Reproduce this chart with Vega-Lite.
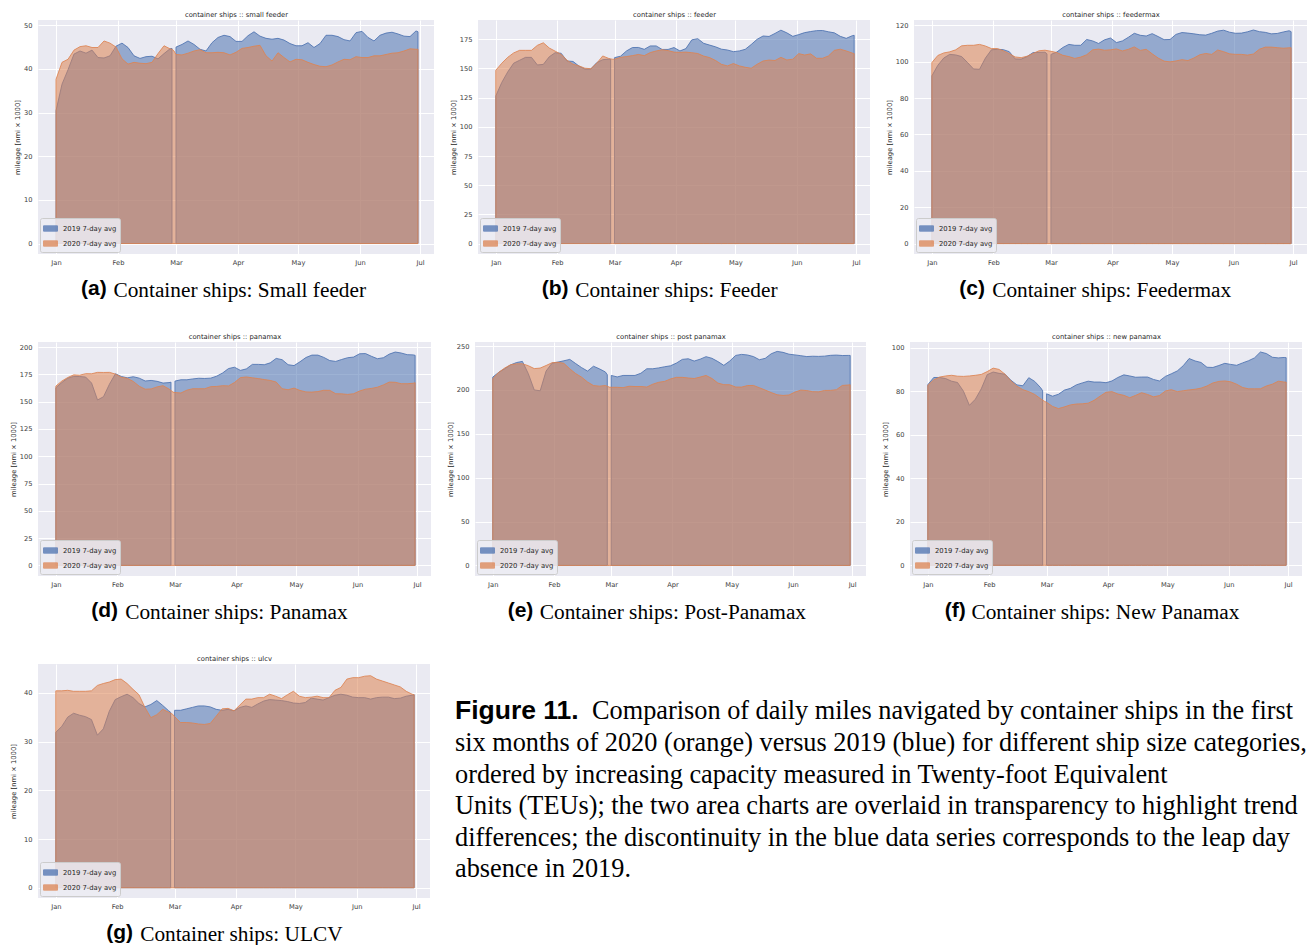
{
"$schema": "https://vega.github.io/schema/vega-lite/v6.json",
"background": "white",
"padding": {"left": 10, "top": 11, "right": 0, "bottom": 0},
"datasets": {"m": [
{"d":"2020-01-01","a19":30.4,"a20":37.6,"b19":126.5,"b20":148.4,"c19":92.2,"c20":99.5,"d19":162.7,"d20":164.2,"e19":214.6,"e20":212.7,"f19":83,"f20":82.7,"g19":31.9,"g20":40.4},
{"d":"2020-01-04","a19":36.5,"a20":41.5,"b19":138,"b20":154.5,"c19":98,"c20":103.4,"d19":167.5,"d20":168.8,"e19":220,"e20":220,"f19":86.3,"f20":85.2,"g19":33.1,"g20":40.4},
{"d":"2020-01-07","a19":39.8,"a20":42.2,"b19":147,"b20":159.5,"c19":102,"c20":104.8,"d19":171.5,"d20":172.1,"e19":224.1,"e20":224.9,"f19":86.3,"f20":86.5,"g19":35,"g20":40.5},
{"d":"2020-01-10","a19":43.4,"a20":44.3,"b19":154.5,"b20":163.3,"c19":104,"c20":105.4,"d19":173.1,"d20":174.5,"e19":228.5,"e20":228.7,"f19":85.8,"f20":87,"g19":35.8,"g20":40.3},
{"d":"2020-01-13","a19":44.1,"a20":45.1,"b19":157,"b20":165.5,"c19":103.7,"c20":106.5,"d19":173,"d20":174.2,"e19":231.2,"e20":229.7,"f19":84.6,"f20":87.3,"g19":35.4,"g20":40.3},
{"d":"2020-01-16","a19":43.6,"a20":45.3,"b19":159.5,"b20":165.5,"c19":102.8,"c20":108.7,"d19":172.5,"d20":175.6,"e19":232.5,"e20":229.8,"f19":84,"f20":86.9,"g19":35.1,"g20":40.3},
{"d":"2020-01-19","a19":44.3,"a20":44.9,"b19":159.5,"b20":165.5,"c19":99.5,"c20":109,"d19":167,"d20":175.5,"e19":218.5,"e20":227.6,"f19":80,"f20":86.8,"g19":34.5,"g20":40.4},
{"d":"2020-01-22","a19":42.6,"a20":44.9,"b19":153,"b20":169.8,"c19":96,"c20":109,"d19":151.5,"d20":176.8,"e19":200,"e20":224.3,"f19":73.5,"f20":87,"g19":31.3,"g20":41.5},
{"d":"2020-01-25","a19":42.5,"a20":46.4,"b19":153.5,"b20":172,"c19":95.8,"c20":109.5,"d19":154.5,"d20":176.7,"e19":199,"e20":224.9,"f19":76.3,"f20":87.3,"g19":32.6,"g20":41.9},
{"d":"2020-01-28","a19":43,"a20":45.9,"b19":160,"b20":167.5,"c19":102,"c20":108.6,"d19":166,"d20":176.8,"e19":221.5,"e20":227.8,"f19":81.1,"f20":87.7,"g19":36.2,"g20":42.2},
{"d":"2020-01-31","a19":45.2,"a20":45,"b19":163.5,"b20":164.8,"c19":106.5,"c20":107.2,"d19":175.5,"d20":175.2,"e19":230.5,"e20":231,"f19":87.6,"f20":89,"g19":38.6,"g20":42.7},
{"d":"2020-02-03","a19":45.9,"a20":42.3,"b19":163,"b20":162.1,"c19":106.8,"c20":107.2,"d19":173,"d20":172.3,"e19":231.7,"e20":231.5,"f19":88.8,"f20":90.6,"g19":39.2,"g20":42.8},
{"d":"2020-02-06","a19":44.9,"a20":41.1,"b19":156.4,"b20":157,"c19":106.6,"c20":106,"d19":171.8,"d20":171.3,"e19":233.2,"e20":230.3,"f19":88.2,"f20":90,"g19":39.7,"g20":41.9},
{"d":"2020-02-09","a19":43,"a20":41.5,"b19":156,"b20":153.6,"c19":105.5,"c20":104.4,"d19":172.8,"d20":168.5,"e19":234.8,"e20":224,"f19":87.8,"f20":87.8,"g19":39,"g20":40.7},
{"d":"2020-02-12","a19":42.4,"a20":41.3,"b19":152,"b20":152.2,"c19":101.5,"c20":102.6,"d19":171.5,"d20":164.1,"e19":230,"e20":218.6,"f19":85,"f20":84.7,"g19":37.8,"g20":39.6},
{"d":"2020-02-15","a19":42.8,"a20":41.2,"b19":149.5,"b20":150.2,"c19":101.4,"c20":102.2,"d19":168.9,"d20":161.4,"e19":225.4,"e20":214.5,"f19":82.9,"f20":82.3,"g19":37.1,"g20":37},
{"d":"2020-02-18","a19":42.9,"a20":41.5,"b19":149.5,"b20":149.8,"c19":102.8,"c20":103,"d19":169.4,"d20":161.6,"e19":221.5,"e20":209,"f19":82.5,"f20":80.7,"g19":37.6,"g20":34.9},
{"d":"2020-02-21","a19":42.3,"a20":43.5,"b19":155,"b20":154.5,"c19":105,"c20":104.5,"d19":168.6,"d20":163.5,"e19":227,"e20":205,"f19":86.2,"f20":79.8,"g19":38.4,"g20":35.5},
{"d":"2020-02-24","a19":43.5,"a20":45.3,"b19":157.5,"b20":160.7,"c19":105.1,"c20":106,"d19":167,"d20":164.6,"e19":224,"e20":204.3,"f19":84.5,"f20":78.5,"g19":37.4,"g20":36.6},
{"d":"2020-02-27","a19":44.6,"a20":44.6,"b19":158,"b20":158.6,"c19":105.2,"c20":106.3,"d19":167.4,"d20":161.5,"e19":220.5,"e20":205,"f19":81.6,"f20":76.5,"g19":36.3,"g20":36},
{"d":"2020-02-28","a19":44.7,"a20":44.5,"b19":157.9,"b20":158.2,"c19":104.3,"c20":106.1,"d19":167.8,"d20":160.2,"e19":217.3,"e20":204.2,"f19":80.2,"f20":75.9,"g19":36,"g20":35.8},
{"d":"2020-02-29","a19":null,"a20":44.1,"b19":null,"b20":157.9,"c19":null,"c20":105.9,"d19":null,"d20":158.7,"e19":null,"e20":203.2,"f19":null,"f20":75.3,"g19":null,"g20":35.6},
{"d":"2020-03-01","a19":45,"a20":43.3,"b19":159.3,"b20":157.9,"c19":104,"c20":105.7,"d19":168.8,"d20":158.3,"e19":216.5,"e20":203,"f19":78.8,"f20":74.9,"g19":36.4,"g20":35.1},
{"d":"2020-03-04","a19":45.6,"a20":43.2,"b19":160.5,"b20":159.5,"c19":105.3,"c20":105,"d19":170,"d20":157.9,"e19":214.8,"e20":203,"f19":77.7,"f20":73,"g19":36.4,"g20":33.9},
{"d":"2020-03-07","a19":46.4,"a20":43.6,"b19":165,"b20":160.2,"c19":107.8,"c20":103.5,"d19":170,"d20":160.5,"e19":216.5,"e20":202.6,"f19":78.6,"f20":72,"g19":36.7,"g20":33.9},
{"d":"2020-03-10","a19":45.6,"a20":44.1,"b19":167.9,"b20":161,"c19":109.5,"c20":102.8,"d19":170.8,"d20":161.8,"e19":216.5,"e20":204.2,"f19":80.5,"f20":72.8,"g19":37,"g20":33.8},
{"d":"2020-03-13","a19":44.5,"a20":44.4,"b19":168,"b20":162,"c19":109,"c20":101.8,"d19":171.4,"d20":161.8,"e19":216.5,"e20":203.9,"f19":81.3,"f20":73.7,"g19":37.3,"g20":33.6},
{"d":"2020-03-16","a19":44.1,"a20":43.7,"b19":166.4,"b20":161,"c19":109,"c20":102.5,"d19":171.2,"d20":161.8,"e19":219,"e20":203.9,"f19":82.9,"f20":74.1,"g19":37.3,"g20":33.5},
{"d":"2020-03-19","a19":46,"a20":43.7,"b19":169.3,"b20":163.6,"c19":112.2,"c20":103.8,"d19":171.5,"d20":163.7,"e19":224.1,"e20":203.3,"f19":83.8,"f20":74.2,"g19":37.1,"g20":33.7},
{"d":"2020-03-22","a19":47.2,"a20":43.8,"b19":169.3,"b20":165,"c19":111.4,"c20":106.5,"d19":173.3,"d20":163.9,"e19":224.1,"e20":206.5,"f19":84.6,"f20":74.5,"g19":36.6,"g20":35.2},
{"d":"2020-03-25","a19":47.7,"a20":43.7,"b19":166.3,"b20":166,"c19":110,"c20":106.9,"d19":176.2,"d20":164.6,"e19":225.1,"e20":208.7,"f19":84.2,"f20":75.8,"g19":36.4,"g20":36.7},
{"d":"2020-03-28","a19":47.4,"a20":43.2,"b19":166.3,"b20":165.3,"c19":112,"c20":106.3,"d19":180.3,"d20":164.4,"e19":226.4,"e20":209.7,"f19":84.2,"f20":77.7,"g19":36.6,"g20":36.8},
{"d":"2020-03-31","a19":46.3,"a20":43.8,"b19":167.9,"b20":164,"c19":113,"c20":106.5,"d19":181.5,"d20":167.5,"e19":227.5,"e20":212.5,"f19":83.9,"f20":79.5,"g19":36.3,"g20":36.3},
{"d":"2020-04-03","a19":46.3,"a20":44.7,"b19":165,"b20":163.8,"c19":110.5,"c20":107,"d19":178.6,"d20":172,"e19":230.6,"e20":214.3,"f19":84.7,"f20":79.8,"g19":37,"g20":37.5},
{"d":"2020-04-06","a19":47.6,"a20":44.9,"b19":167,"b20":164,"c19":111.4,"c20":105.9,"d19":180,"d20":172.6,"e19":234.8,"e20":214.3,"f19":86.3,"f20":78.7,"g19":37.3,"g20":38.7},
{"d":"2020-04-09","a19":48.5,"a20":45.2,"b19":174.5,"b20":163.5,"c19":113.4,"c20":106.8,"d19":184.1,"d20":171.8,"e19":235.5,"e20":213.6,"f19":87.5,"f20":78.1,"g19":37,"g20":38.7},
{"d":"2020-04-12","a19":47.5,"a20":45.4,"b19":175.5,"b20":162.8,"c19":115.6,"c20":108.1,"d19":184.1,"d20":171.1,"e19":232.9,"e20":213,"f19":87,"f20":77,"g19":37.7,"g20":39},
{"d":"2020-04-15","a19":47,"a20":43,"b19":171.5,"b20":160.6,"c19":114.5,"c20":106.2,"d19":183.8,"d20":170.2,"e19":235,"e20":214.6,"f19":86.4,"f20":78.1,"g19":38.3,"g20":39},
{"d":"2020-04-18","a19":46.8,"a20":41.8,"b19":170,"b20":159.3,"c19":114.1,"c20":106.8,"d19":185.5,"d20":169.4,"e19":237.9,"e20":216.5,"f19":86.5,"f20":79.3,"g19":38.6,"g20":39.7},
{"d":"2020-04-21","a19":47,"a20":43.7,"b19":168.5,"b20":156.8,"c19":115.4,"c20":104.3,"d19":189.6,"d20":167.9,"e19":236,"e20":213,"f19":86.5,"f20":78.5,"g19":38.5,"g20":39.3},
{"d":"2020-04-24","a19":46.6,"a20":42.6,"b19":166.5,"b20":153.5,"c19":113.8,"c20":102,"d19":188.4,"d20":161.8,"e19":232.3,"e20":207.8,"f19":85.4,"f20":77.4,"g19":38.4,"g20":38.8},
{"d":"2020-04-27","a19":45.8,"a20":41.6,"b19":165.8,"b20":152.2,"c19":112.1,"c20":100.3,"d19":183.8,"d20":160.9,"e19":228,"e20":206,"f19":84.7,"f20":78,"g19":38.2,"g20":39.6},
{"d":"2020-04-30","a19":45.3,"a20":42.2,"b19":164.4,"b20":154.2,"c19":112.2,"c20":99.9,"d19":183,"d20":162.4,"e19":232.9,"e20":205.9,"f19":86.8,"f20":80.1,"g19":37.9,"g20":40.3},
{"d":"2020-05-03","a19":45.3,"a20":42.1,"b19":165,"b20":152.2,"c19":115,"c20":100.4,"d19":186.5,"d20":160.2,"e19":239.3,"e20":203.3,"f19":88,"f20":80.7,"g19":37.8,"g20":39.3},
{"d":"2020-05-06","a19":46,"a20":41.5,"b19":166.4,"b20":151,"c19":116,"c20":101.1,"d19":190.4,"d20":158.9,"e19":240.5,"e20":203.2,"f19":89.3,"f20":79.8,"g19":38,"g20":39},
{"d":"2020-05-09","a19":44.9,"a20":41,"b19":170.5,"b20":150.2,"c19":115.7,"c20":100.6,"d19":192.6,"d20":158.7,"e19":239.8,"e20":205,"f19":91.7,"f20":80.2,"g19":38.9,"g20":39.1},
{"d":"2020-05-12","a19":45.8,"a20":40.6,"b19":175,"b20":153.6,"c19":115.3,"c20":102,"d19":192.6,"d20":159.2,"e19":238,"e20":205.1,"f19":95,"f20":80.6,"g19":38.7,"g20":39.3},
{"d":"2020-05-15","a19":47.7,"a20":40.5,"b19":177.8,"b20":156.4,"c19":114.8,"c20":103.8,"d19":190.5,"d20":160.4,"e19":234.4,"e20":202.5,"f19":93.9,"f20":80.9,"g19":38.5,"g20":39},
{"d":"2020-05-18","a19":47.7,"a20":40.9,"b19":177.4,"b20":157.2,"c19":114.6,"c20":104.5,"d19":187.6,"d20":160.3,"e19":236,"e20":199.8,"f19":93.2,"f20":81.4,"g19":39,"g20":39},
{"d":"2020-05-21","a19":47.4,"a20":41.6,"b19":180,"b20":156.8,"c19":115.6,"c20":104,"d19":186.8,"d20":157.2,"e19":241.2,"e20":197,"f19":91,"f20":82.4,"g19":39.5,"g20":40.5},
{"d":"2020-05-24","a19":46.7,"a20":42.2,"b19":182.8,"b20":159.5,"c19":116.8,"c20":106.4,"d19":188.6,"d20":157.1,"e19":243.9,"e20":194.5,"f19":90.9,"f20":83.8,"g19":39.7,"g20":41.1},
{"d":"2020-05-27","a19":46.4,"a20":42.1,"b19":180.5,"b20":157.3,"c19":117.3,"c20":105.5,"d19":190.2,"d20":156.6,"e19":242.8,"e20":193.7,"f19":91.8,"f20":84.5,"g19":39.5,"g20":42.8},
{"d":"2020-05-30","a19":48.3,"a20":42.8,"b19":177.5,"b20":157.9,"c19":116.2,"c20":104.3,"d19":190.8,"d20":157.2,"e19":240.7,"e20":194.2,"f19":92.8,"f20":84.7,"g19":39.1,"g20":43.1},
{"d":"2020-06-02","a19":48.6,"a20":42.6,"b19":179,"b20":162.7,"c19":115.6,"c20":104,"d19":193.8,"d20":159.7,"e19":239.9,"e20":197.5,"f19":92.3,"f20":84.3,"g19":39,"g20":43.1},
{"d":"2020-06-05","a19":47.2,"a20":42.6,"b19":180.7,"b20":161.5,"c19":115.7,"c20":104,"d19":194,"d20":161.4,"e19":239,"e20":199.8,"f19":91.9,"f20":83.2,"g19":39,"g20":43.4},
{"d":"2020-06-08","a19":46.4,"a20":43,"b19":181.6,"b20":162.5,"c19":116.4,"c20":103.6,"d19":191.5,"d20":162.1,"e19":238,"e20":199.3,"f19":93,"f20":81.7,"g19":38.7,"g20":43.5},
{"d":"2020-06-11","a19":47.7,"a20":43,"b19":182.4,"b20":158.7,"c19":117.4,"c20":104.2,"d19":189.3,"d20":163.2,"e19":238.4,"e20":198,"f19":94,"f20":81.1,"g19":39,"g20":42.8},
{"d":"2020-06-14","a19":48.2,"a20":43.3,"b19":182.5,"b20":158.7,"c19":116.5,"c20":106.8,"d19":190.2,"d20":165.3,"e19":238.2,"e20":197.8,"f19":95.3,"f20":81.1,"g19":39.1,"g20":42.4},
{"d":"2020-06-17","a19":48.4,"a20":43.6,"b19":181.4,"b20":160.7,"c19":116.1,"c20":108,"d19":193.5,"d20":167.9,"e19":238.5,"e20":199.4,"f19":98,"f20":81.1,"g19":39.1,"g20":42},
{"d":"2020-06-20","a19":48,"a20":43.7,"b19":180.5,"b20":165.5,"c19":115.3,"c20":108,"d19":195.4,"d20":167.7,"e19":239.4,"e20":199.5,"f19":97.3,"f20":82.4,"g19":38.8,"g20":41.6},
{"d":"2020-06-23","a19":47.5,"a20":44.1,"b19":177.5,"b20":166.5,"c19":115.5,"c20":107.7,"d19":194.5,"d20":166.4,"e19":239.7,"e20":200.2,"f19":95.6,"f20":83.2,"g19":38.9,"g20":41.2},
{"d":"2020-06-26","a19":47.4,"a20":44.6,"b19":175.8,"b20":165,"c19":116.3,"c20":107.4,"d19":193,"d20":166.4,"e19":239.2,"e20":205.1,"f19":95.3,"f20":84.6,"g19":39.3,"g20":40.3},
{"d":"2020-06-29","a19":48.7,"a20":44.5,"b19":178,"b20":163.2,"c19":117,"c20":107.6,"d19":192.8,"d20":166.8,"e19":239.3,"e20":205.6,"f19":95.5,"f20":84.2,"g19":39.5,"g20":39.7},
{"d":"2020-06-30","a19":48.5,"a20":44.5,"b19":178.4,"b20":162.7,"c19":116.5,"c20":107.7,"d19":192.4,"d20":167.3,"e19":239.3,"e20":205.9,"f19":95.4,"f20":84.2,"g19":39.6,"g20":39.6}
]},
"vconcat": [
{"hconcat": [
{"width": 396, "height": 234, "data": {"name": "m"},
 "title": {"text": "(a)", "dx": 43},
 "encoding": {
  "y": {"field": "v", "type": "quantitative", "stack": null, "scale": {"domain": [-2.4, 51.2], "nice": false, "zero": false}, "axis": {"values": [0,10,20,30,40,50], "title": "mileage [nmi × 1000]"}},
  "fill": {"field": "s", "type": "nominal", "scale": {"range": ["#4C72B0", "#DD8452"]}, "legend": {"labelExpr": "substring(datum.label,1)=='19' ? '2019 7-day avg' : '2020 7-day avg'"}},
  "stroke": {"field": "s", "type": "nominal", "scale": {"range": ["#4C72B0", "#DD8452"]}, "legend": {"labelExpr": "substring(datum.label,1)=='19' ? '2019 7-day avg' : '2020 7-day avg'"}}
 },
 "layer": [
  {"transform": [{"fold": ["a19"], "as": ["s", "v"]}], "mark": {"type": "area", "fillOpacity": 0.55, "strokeWidth": 1, "strokeOpacity": 0.85, "invalid": "break-paths-show-domains"},
   "encoding": {"x": {"field": "d", "type": "temporal", "scale": {"type": "utc", "domain": [{"year": 2019, "month": 12, "date": 23, "utc": true}, {"year": 2020, "month": 7, "date": 8, "utc": true}]},
    "axis": {"orient": "bottom", "values": [{"year":2020,"month":1,"date":1,"utc":true},{"year":2020,"month":2,"date":1,"utc":true},{"year":2020,"month":3,"date":1,"utc":true},{"year":2020,"month":4,"date":1,"utc":true},{"year":2020,"month":5,"date":1,"utc":true},{"year":2020,"month":6,"date":1,"utc":true},{"year":2020,"month":7,"date":1,"utc":true}], "title": "Container ships: Small feeder", "titleX": 75}}}},
  {"transform": [{"fold": ["a20"], "as": ["s", "v"]}], "mark": {"type": "area", "fillOpacity": 0.55, "strokeWidth": 1, "strokeOpacity": 0.85, "invalid": "break-paths-show-domains"},
   "encoding": {"x": {"field": "d", "type": "temporal", "axis": {"orient": "top", "title": "container ships :: small feeder"}}}}
 ],
 "resolve": {"axis": {"x": "independent"}}
},
{"width": 392, "height": 234, "data": {"name": "m"},
 "title": {"text": "(b)", "dx": 63.7},
 "encoding": {
  "y": {"field": "v", "type": "quantitative", "stack": null, "scale": {"domain": [-8.9, 191.5], "nice": false, "zero": false}, "axis": {"values": [0,25,50,75,100,125,150,175], "title": "mileage [nmi × 1000]"}},
  "fill": {"field": "s", "type": "nominal", "scale": {"range": ["#4C72B0", "#DD8452"]}, "legend": {"labelExpr": "substring(datum.label,1)=='19' ? '2019 7-day avg' : '2020 7-day avg'"}},
  "stroke": {"field": "s", "type": "nominal", "scale": {"range": ["#4C72B0", "#DD8452"]}, "legend": {"labelExpr": "substring(datum.label,1)=='19' ? '2019 7-day avg' : '2020 7-day avg'"}}
 },
 "layer": [
  {"transform": [{"fold": ["b19"], "as": ["s", "v"]}], "mark": {"type": "area", "fillOpacity": 0.55, "strokeWidth": 1, "strokeOpacity": 0.85, "invalid": "break-paths-show-domains"},
   "encoding": {"x": {"field": "d", "type": "temporal", "scale": {"type": "utc", "domain": [{"year": 2019, "month": 12, "date": 23, "utc": true}, {"year": 2020, "month": 7, "date": 8, "utc": true}]},
    "axis": {"orient": "bottom", "values": [{"year":2020,"month":1,"date":1,"utc":true},{"year":2020,"month":2,"date":1,"utc":true},{"year":2020,"month":3,"date":1,"utc":true},{"year":2020,"month":4,"date":1,"utc":true},{"year":2020,"month":5,"date":1,"utc":true},{"year":2020,"month":6,"date":1,"utc":true},{"year":2020,"month":7,"date":1,"utc":true}], "title": "Container ships: Feeder", "titleX": 96.7}}}},
  {"transform": [{"fold": ["b20"], "as": ["s", "v"]}], "mark": {"type": "area", "fillOpacity": 0.55, "strokeWidth": 1, "strokeOpacity": 0.85, "invalid": "break-paths-show-domains"},
   "encoding": {"x": {"field": "d", "type": "temporal", "axis": {"orient": "top", "title": "container ships :: feeder"}}}}
 ],
 "resolve": {"axis": {"x": "independent"}}
},
{"width": 393, "height": 234, "data": {"name": "m"},
 "title": {"text": "(c)", "dx": 45.3},
 "encoding": {
  "y": {"field": "v", "type": "quantitative", "stack": null, "scale": {"domain": [-5.7, 122.9], "nice": false, "zero": false}, "axis": {"values": [0,20,40,60,80,100,120], "title": "mileage [nmi × 1000]"}},
  "fill": {"field": "s", "type": "nominal", "scale": {"range": ["#4C72B0", "#DD8452"]}, "legend": {"labelExpr": "substring(datum.label,1)=='19' ? '2019 7-day avg' : '2020 7-day avg'"}},
  "stroke": {"field": "s", "type": "nominal", "scale": {"range": ["#4C72B0", "#DD8452"]}, "legend": {"labelExpr": "substring(datum.label,1)=='19' ? '2019 7-day avg' : '2020 7-day avg'"}}
 },
 "layer": [
  {"transform": [{"fold": ["c19"], "as": ["s", "v"]}], "mark": {"type": "area", "fillOpacity": 0.55, "strokeWidth": 1, "strokeOpacity": 0.85, "invalid": "break-paths-show-domains"},
   "encoding": {"x": {"field": "d", "type": "temporal", "scale": {"type": "utc", "domain": [{"year": 2019, "month": 12, "date": 23, "utc": true}, {"year": 2020, "month": 7, "date": 8, "utc": true}]},
    "axis": {"orient": "bottom", "values": [{"year":2020,"month":1,"date":1,"utc":true},{"year":2020,"month":2,"date":1,"utc":true},{"year":2020,"month":3,"date":1,"utc":true},{"year":2020,"month":4,"date":1,"utc":true},{"year":2020,"month":5,"date":1,"utc":true},{"year":2020,"month":6,"date":1,"utc":true},{"year":2020,"month":7,"date":1,"utc":true}], "title": "Container ships: Feedermax", "titleX": 77.7}}}},
  {"transform": [{"fold": ["c20"], "as": ["s", "v"]}], "mark": {"type": "area", "fillOpacity": 0.55, "strokeWidth": 1, "strokeOpacity": 0.85, "invalid": "break-paths-show-domains"},
   "encoding": {"x": {"field": "d", "type": "temporal", "axis": {"orient": "top", "title": "container ships :: feedermax"}}}}
 ],
 "resolve": {"axis": {"x": "independent"}}
}
], "spacing": 16,
 "resolve": {"scale": {"fill": "independent", "stroke": "independent"}, "legend": {"fill": "independent", "stroke": "independent"}}},
{"hconcat": [
{"width": 393, "height": 234, "data": {"name": "m"},
 "title": {"text": "(d)", "dx": 53.3},
 "encoding": {
  "y": {"field": "v", "type": "quantitative", "stack": null, "scale": {"domain": [-9.7, 204.6], "nice": false, "zero": false}, "axis": {"values": [0,25,50,75,100,125,150,175,200], "title": "mileage [nmi × 1000]"}},
  "fill": {"field": "s", "type": "nominal", "scale": {"range": ["#4C72B0", "#DD8452"]}, "legend": {"labelExpr": "substring(datum.label,1)=='19' ? '2019 7-day avg' : '2020 7-day avg'"}},
  "stroke": {"field": "s", "type": "nominal", "scale": {"range": ["#4C72B0", "#DD8452"]}, "legend": {"labelExpr": "substring(datum.label,1)=='19' ? '2019 7-day avg' : '2020 7-day avg'"}}
 },
 "layer": [
  {"transform": [{"fold": ["d19"], "as": ["s", "v"]}], "mark": {"type": "area", "fillOpacity": 0.55, "strokeWidth": 1, "strokeOpacity": 0.85, "invalid": "break-paths-show-domains"},
   "encoding": {"x": {"field": "d", "type": "temporal", "scale": {"type": "utc", "domain": [{"year": 2019, "month": 12, "date": 23, "utc": true}, {"year": 2020, "month": 7, "date": 8, "utc": true}]},
    "axis": {"orient": "bottom", "values": [{"year":2020,"month":1,"date":1,"utc":true},{"year":2020,"month":2,"date":1,"utc":true},{"year":2020,"month":3,"date":1,"utc":true},{"year":2020,"month":4,"date":1,"utc":true},{"year":2020,"month":5,"date":1,"utc":true},{"year":2020,"month":6,"date":1,"utc":true},{"year":2020,"month":7,"date":1,"utc":true}], "title": "Container ships: Panamax", "titleX": 86.7}}}},
  {"transform": [{"fold": ["d20"], "as": ["s", "v"]}], "mark": {"type": "area", "fillOpacity": 0.55, "strokeWidth": 1, "strokeOpacity": 0.85, "invalid": "break-paths-show-domains"},
   "encoding": {"x": {"field": "d", "type": "temporal", "axis": {"orient": "top", "title": "container ships :: panamax"}}}}
 ],
 "resolve": {"axis": {"x": "independent"}}
},
{"width": 391, "height": 234, "data": {"name": "m"},
 "title": {"text": "(e)", "dx": 32.7},
 "encoding": {
  "y": {"field": "v", "type": "quantitative", "stack": null, "scale": {"domain": [-12, 254.6], "nice": false, "zero": false}, "axis": {"values": [0,50,100,150,200,250], "title": "mileage [nmi × 1000]"}},
  "fill": {"field": "s", "type": "nominal", "scale": {"range": ["#4C72B0", "#DD8452"]}, "legend": {"labelExpr": "substring(datum.label,1)=='19' ? '2019 7-day avg' : '2020 7-day avg'"}},
  "stroke": {"field": "s", "type": "nominal", "scale": {"range": ["#4C72B0", "#DD8452"]}, "legend": {"labelExpr": "substring(datum.label,1)=='19' ? '2019 7-day avg' : '2020 7-day avg'"}}
 },
 "layer": [
  {"transform": [{"fold": ["e19"], "as": ["s", "v"]}], "mark": {"type": "area", "fillOpacity": 0.55, "strokeWidth": 1, "strokeOpacity": 0.85, "invalid": "break-paths-show-domains"},
   "encoding": {"x": {"field": "d", "type": "temporal", "scale": {"type": "utc", "domain": [{"year": 2019, "month": 12, "date": 23, "utc": true}, {"year": 2020, "month": 7, "date": 8, "utc": true}]},
    "axis": {"orient": "bottom", "values": [{"year":2020,"month":1,"date":1,"utc":true},{"year":2020,"month":2,"date":1,"utc":true},{"year":2020,"month":3,"date":1,"utc":true},{"year":2020,"month":4,"date":1,"utc":true},{"year":2020,"month":5,"date":1,"utc":true},{"year":2020,"month":6,"date":1,"utc":true},{"year":2020,"month":7,"date":1,"utc":true}], "title": "Container ships: Post-Panamax", "titleX": 64.3}}}},
  {"transform": [{"fold": ["e20"], "as": ["s", "v"]}], "mark": {"type": "area", "fillOpacity": 0.55, "strokeWidth": 1, "strokeOpacity": 0.85, "invalid": "break-paths-show-domains"},
   "encoding": {"x": {"field": "d", "type": "temporal", "axis": {"orient": "top", "title": "container ships :: post panamax"}}}}
 ],
 "resolve": {"axis": {"x": "independent"}}
},
{"width": 392, "height": 234, "data": {"name": "m"},
 "title": {"text": "(f)", "dx": 34.7},
 "encoding": {
  "y": {"field": "v", "type": "quantitative", "stack": null, "scale": {"domain": [-4.9, 102.6], "nice": false, "zero": false}, "axis": {"values": [0,20,40,60,80,100], "title": "mileage [nmi × 1000]"}},
  "fill": {"field": "s", "type": "nominal", "scale": {"range": ["#4C72B0", "#DD8452"]}, "legend": {"labelExpr": "substring(datum.label,1)=='19' ? '2019 7-day avg' : '2020 7-day avg'"}},
  "stroke": {"field": "s", "type": "nominal", "scale": {"range": ["#4C72B0", "#DD8452"]}, "legend": {"labelExpr": "substring(datum.label,1)=='19' ? '2019 7-day avg' : '2020 7-day avg'"}}
 },
 "layer": [
  {"transform": [{"fold": ["f19"], "as": ["s", "v"]}], "mark": {"type": "area", "fillOpacity": 0.55, "strokeWidth": 1, "strokeOpacity": 0.85, "invalid": "break-paths-show-domains"},
   "encoding": {"x": {"field": "d", "type": "temporal", "scale": {"type": "utc", "domain": [{"year": 2019, "month": 12, "date": 23, "utc": true}, {"year": 2020, "month": 7, "date": 8, "utc": true}]},
    "axis": {"orient": "bottom", "values": [{"year":2020,"month":1,"date":1,"utc":true},{"year":2020,"month":2,"date":1,"utc":true},{"year":2020,"month":3,"date":1,"utc":true},{"year":2020,"month":4,"date":1,"utc":true},{"year":2020,"month":5,"date":1,"utc":true},{"year":2020,"month":6,"date":1,"utc":true},{"year":2020,"month":7,"date":1,"utc":true}], "title": "Container ships: New Panamax", "titleX": 61}}}},
  {"transform": [{"fold": ["f20"], "as": ["s", "v"]}], "mark": {"type": "area", "fillOpacity": 0.55, "strokeWidth": 1, "strokeOpacity": 0.85, "invalid": "break-paths-show-domains"},
   "encoding": {"x": {"field": "d", "type": "temporal", "axis": {"orient": "top", "title": "container ships :: new panamax"}}}}
 ],
 "resolve": {"axis": {"x": "independent"}}
}
], "spacing": 16,
 "resolve": {"scale": {"fill": "independent", "stroke": "independent"}, "legend": {"fill": "independent", "stroke": "independent"}}},
{"hconcat": [
{"width": 392, "height": 234, "data": {"name": "m"},
 "title": {"text": "(g)", "dx": 68.3},
 "encoding": {
  "y": {"field": "v", "type": "quantitative", "stack": null, "scale": {"domain": [-2.1, 45.9], "nice": false, "zero": false}, "axis": {"values": [0,10,20,30,40], "title": "mileage [nmi × 1000]", "titlePadding": 7}},
  "fill": {"field": "s", "type": "nominal", "scale": {"range": ["#4C72B0", "#DD8452"]}, "legend": {"labelExpr": "substring(datum.label,1)=='19' ? '2019 7-day avg' : '2020 7-day avg'"}},
  "stroke": {"field": "s", "type": "nominal", "scale": {"range": ["#4C72B0", "#DD8452"]}, "legend": {"labelExpr": "substring(datum.label,1)=='19' ? '2019 7-day avg' : '2020 7-day avg'"}}
 },
 "layer": [
  {"transform": [{"fold": ["g19"], "as": ["s", "v"]}], "mark": {"type": "area", "fillOpacity": 0.55, "strokeWidth": 1, "strokeOpacity": 0.85, "invalid": "break-paths-show-domains"},
   "encoding": {"x": {"field": "d", "type": "temporal", "scale": {"type": "utc", "domain": [{"year": 2019, "month": 12, "date": 23, "utc": true}, {"year": 2020, "month": 7, "date": 8, "utc": true}]},
    "axis": {"orient": "bottom", "values": [{"year":2020,"month":1,"date":1,"utc":true},{"year":2020,"month":2,"date":1,"utc":true},{"year":2020,"month":3,"date":1,"utc":true},{"year":2020,"month":4,"date":1,"utc":true},{"year":2020,"month":5,"date":1,"utc":true},{"year":2020,"month":6,"date":1,"utc":true},{"year":2020,"month":7,"date":1,"utc":true}], "title": "Container ships: ULCV", "titleX": 101.7}}}},
  {"transform": [{"fold": ["g20"], "as": ["s", "v"]}], "mark": {"type": "area", "fillOpacity": 0.55, "strokeWidth": 1, "strokeOpacity": 0.85, "invalid": "break-paths-show-domains"},
   "encoding": {"x": {"field": "d", "type": "temporal", "axis": {"orient": "top", "title": "container ships :: ulcv"}}}}
 ],
 "resolve": {"axis": {"x": "independent"}}
},
{"width": 850, "height": 234,
 "view": {"fill": "white", "stroke": null},
 "data": {"values": [
  {"line": 1, "k": "b", "t": "Figure 11."},
  {"line": 1, "k": "f", "t": "Comparison of daily miles navigated by container ships in the first"},
  {"line": 2, "k": "r", "t": "six months of 2020 (orange) versus 2019 (blue) for different ship size categories,"},
  {"line": 3, "k": "r", "t": "ordered by increasing capacity measured in Twenty-foot Equivalent"},
  {"line": 4, "k": "r", "t": "Units (TEUs); the two area charts are overlaid in transparency to highlight trend"},
  {"line": 5, "k": "r", "t": "differences; the discontinuity in the blue data series corresponds to the leap day"},
  {"line": 6, "k": "r", "t": "absence in 2019."}
 ]},
 "encoding": {
  "y": {"field": "line", "type": "quantitative", "scale": {"domain": [-0.5, 6.905], "reverse": true, "nice": false, "zero": false}, "axis": null},
  "x": {"value": 0},
  "text": {"field": "t"}
 },
 "layer": [
  {"transform": [{"filter": "datum.k == 'b'"}], "mark": {"type": "text", "align": "left", "baseline": "middle", "font": "Liberation Sans", "fontWeight": "bold", "fontSize": 26.5, "color": "#000000"}},
  {"transform": [{"filter": "datum.k == 'f'"}], "mark": {"type": "text", "align": "left", "baseline": "middle", "font": "Liberation Serif", "fontSize": 26.3, "color": "#000000", "dx": 137}},
  {"transform": [{"filter": "datum.k == 'r'"}], "mark": {"type": "text", "align": "left", "baseline": "middle", "font": "Liberation Serif", "fontSize": 26.3, "color": "#000000"}}
 ]
}
], "spacing": 25,
 "resolve": {"scale": {"fill": "independent", "stroke": "independent"}, "legend": {"fill": "independent", "stroke": "independent"}}}
],
"spacing": 32,
"resolve": {"scale": {"fill": "independent", "stroke": "independent"}, "legend": {"fill": "independent", "stroke": "independent"}},
"config": {
 "view": {"fill": "#EAEAF2", "stroke": null},
 "axis": {"domain": false, "ticks": false, "grid": true, "gridColor": "#ffffff", "gridWidth": 1, "labelFont": "DejaVu Sans", "labelFontSize": 6.7, "labelColor": "#3b3b3b", "labelPadding": 5, "titleFont": "DejaVu Sans", "titleFontSize": 6.8, "titleFontWeight": "normal", "titleColor": "#262626"},
 "axisY": {"labelPadding": 6, "titlePadding": 3},
 "axisBottom": {"format": "%b", "titleFont": "Liberation Serif", "titleFontSize": 21.3, "titleColor": "#000000", "titleFontWeight": "normal", "titleAlign": "left", "titleBaseline": "middle", "titleY": 36},
 "axisTop": {"labels": false, "grid": false, "titlePadding": 3, "titleFontSize": 6.8},
 "legend": {"orient": "bottom-left", "offset": 2, "title": null, "padding": 3, "fillColor": "rgba(236,236,243,0.85)", "strokeColor": "#cccccc", "cornerRadius": 2, "labelFont": "DejaVu Sans", "labelFontSize": 6.8, "labelColor": "#262626", "symbolType": "M-1,-0.38H1V0.38H-1Z", "symbolSize": 196, "rowPadding": 2, "labelOffset": 5, "symbolStrokeWidth": 1, "symbolOpacity": 0.75},
 "title": {"orient": "bottom", "anchor": "start", "frame": "group", "align": "left", "offset": -22, "font": "Liberation Sans", "fontWeight": "bold", "fontSize": 21, "color": "#000000"}
}
}
